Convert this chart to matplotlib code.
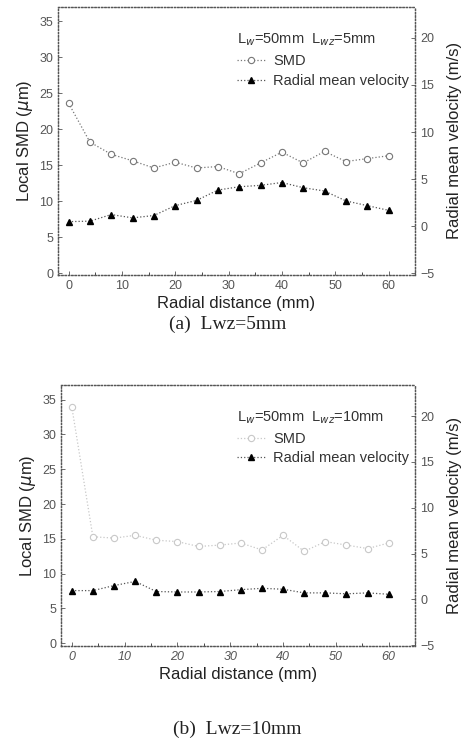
import numpy as np
import matplotlib.pyplot as plt
from matplotlib.ticker import MultipleLocator

plt.rcParams['font.family'] = ['Liberation Sans', 'DejaVu Sans']

# radial positions (mm)
r = [0, 4, 8, 12, 16, 20, 24, 28, 32, 36, 40, 44, 48, 52, 56, 60]

# (a) Lwz = 5mm
smd_a = [23.6, 18.2, 16.5, 15.6, 14.6, 15.4, 14.6, 14.8, 13.8, 15.3, 16.8, 15.3, 16.9, 15.5, 15.9, 16.3]
vel_a = [0.5, 0.55, 1.25, 0.9, 1.15, 2.2, 2.75, 3.85, 4.2, 4.35, 4.65, 4.1, 3.75, 2.7, 2.2, 1.7]

# (b) Lwz = 10mm
smd_b = [34.0, 15.3, 15.1, 15.5, 14.8, 14.6, 13.9, 14.1, 14.4, 13.4, 15.5, 13.2, 14.6, 14.1, 13.6, 14.4]
vel_b = [0.95, 0.95, 1.5, 1.95, 0.85, 0.8, 0.8, 0.85, 1.05, 1.2, 1.1, 0.7, 0.7, 0.6, 0.7, 0.55]

fig = plt.figure(figsize=(4.67, 7.49), dpi=100)

panels = [
    dict(rect=[0.124, 0.633, 0.765, 0.358], smd=smd_a, vel=vel_a,
         head='L$_w$=50mm  L$_{wz}$=5mm', cap='(a)  Lwz=5mm',
         cap_xy=(0.488, 0.567),
         ylim=(-0.25, 37), y2lim=(-5.15, 23.3), smd_col='#777777', italic=False),
    dict(rect=[0.131, 0.1375, 0.758, 0.3485], smd=smd_b, vel=vel_b,
         head='L$_w$=50mm  L$_{wz}$=10mm', cap='(b)  Lwz=10mm',
         cap_xy=(0.507, 0.026),
         ylim=(-0.4, 37.1), y2lim=(-5.1, 23.4), smd_col='#c8c8c8', italic=True),
]

for p in panels:
    ax = fig.add_axes(p['rect'])
    ax2 = ax.twinx()
    l1, = ax.plot(r, p['smd'], ls=':', lw=0.9, color=p['smd_col'], marker='o', ms=4.5,
                  mfc='white', mec=p['smd_col'], mew=0.8, label='SMD')
    l2, = ax2.plot(r, p['vel'], ls=':', lw=0.9, color='#555555', marker='^', ms=5,
                   mfc='black', mec='black', label='Radial mean velocity')

    ax.set_xlim(-2, 65)
    ax.set_ylim(*p['ylim'])
    ax2.set_ylim(*p['y2lim'])
    ax.xaxis.set_major_locator(MultipleLocator(10))
    ax.xaxis.set_minor_locator(MultipleLocator(5))
    ax.yaxis.set_major_locator(MultipleLocator(5))
    ax2.yaxis.set_major_locator(MultipleLocator(5))

    for a in (ax, ax2):
        a.tick_params(direction='in', length=3, width=0.6, labelsize=9, colors='#555555')
        a.tick_params(which='minor', direction='in', length=2, width=0.5)
        for s in a.spines.values():
            s.set_linestyle(':')
            s.set_linewidth(0.9)
            s.set_color('#555555')
    if p['italic']:
        for t in ax.get_xticklabels():
            t.set_style('italic')

    ax.set_xlabel('Radial distance (mm)', fontsize=12, color='#222222', labelpad=3)
    ax.set_ylabel('Local SMD ($\\mu$m)', fontsize=12, color='#222222', labelpad=3)
    ax2.set_ylabel('Radial mean velocity (m/s)', fontsize=12, color='#222222', labelpad=9)

    leg = ax.legend(handles=[l1, l2], title=p['head'], loc='upper right',
                    bbox_to_anchor=(1.0, 0.93), frameon=False,
                    fontsize=10.5, title_fontsize=10.5, alignment='left', handlelength=2.0,
                    handletextpad=0.5, borderaxespad=0.0, labelspacing=0.4)
    for t in leg.get_texts():
        t.set_color('#333333')
    leg.get_title().set_color('#333333')

    fig.text(p['cap_xy'][0], p['cap_xy'][1], p['cap'], ha='center', va='center',
             fontsize=14, family=['Liberation Serif', 'DejaVu Serif'], color='#222222')

fig.savefig('out.png', dpi=100)
